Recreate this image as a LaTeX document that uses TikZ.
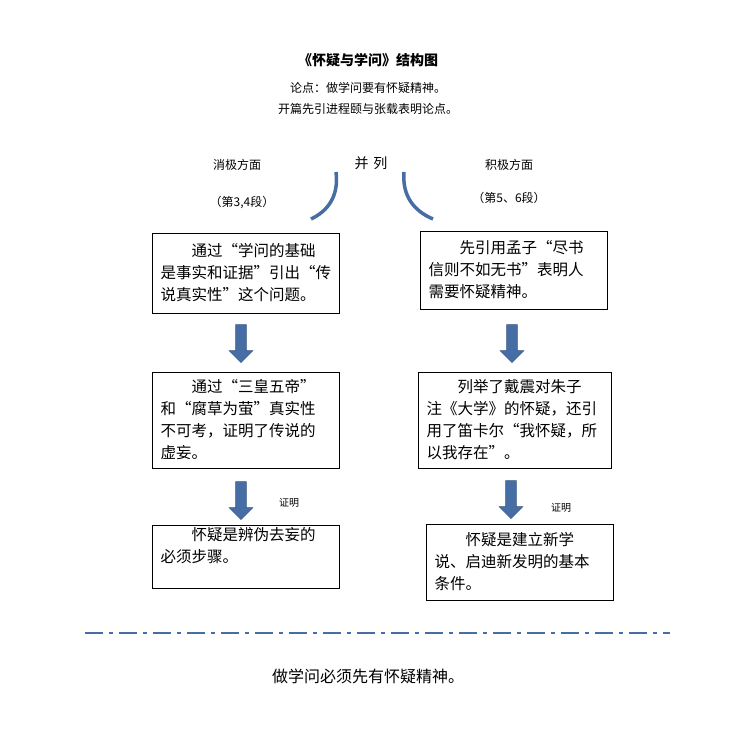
\documentclass[tikz,border=0pt]{standalone}
\usepackage{fontspec}
\setmainfont{Noto Sans CJK SC}
\usetikzlibrary{shapes.arrows}
\definecolor{bl}{RGB}{70,110,165}
\begin{document}
\begin{tikzpicture}[x=1pt,y=-1pt,
 box/.style={draw,line width=0.8pt,inner sep=0pt,align=left,text width=170pt,font=\fontsize{15.5}{22}\selectfont},
 lbl/.style={font=\fontsize{12}{14}\selectfont},
 barrow/.style={single arrow,draw=bl!80!black,fill=bl,shape border rotate=270,minimum height=38pt,minimum width=24pt,single arrow head extend=4pt,inner sep=3pt}]
\useasboundingbox (0,0) rectangle (735,736);
\node[font=\fontsize{14}{16}\selectfont\bfseries] (t) at (368,60) {《怀疑与学问》结构图};
\node[lbl] (s1) at (368,88) {论点：做学问要有怀疑精神。};
\node[lbl] (s2) at (368,109) {开篇先引进程颐与张载表明论点。};
\node[font=\fontsize{14}{16}\selectfont] (bl0) at (371,163) {并\,\,列};
\node[lbl] (n1) at (237,165) {消极方面};
\node[lbl] (n2) at (242,203) {（第3,4段）};
\node[lbl] (p1) at (509,165) {积极方面};
\node[lbl] (p2) at (509,198) {（第5、6段）};
\draw[bl,line width=3.5pt] (336,172) .. controls (339,196) and (328,211) .. (311,219);
\draw[bl,line width=3.5pt] (404,172) .. controls (402,196) and (414,211) .. (433,219);
\node[box,minimum width=187pt,minimum height=80pt] (L1) at (245.5,273) {\hspace*{2em}通过“学问的基础\\是事实和证据”引出“传\\说真实性”这个问题。};
\node[box,minimum width=187pt,minimum height=78pt] (R1) at (513.5,270) {\hspace*{2em}先引用孟子“尽书\\信则不如无书”表明人\\需要怀疑精神。};
\node[box,minimum width=187pt,minimum height=96pt] (L2) at (245.5,420) {\hspace*{2em}通过“三皇五帝”\\和“腐草为萤”真实性\\不可考，证明了传说的\\虚妄。};
\node[box,minimum width=193pt,minimum height=96pt,text width=176pt] (R2) at (514.5,420) {\hspace*{2em}列举了戴震对朱子\\注《大学》的怀疑，还引\\用了笛卡尔“我怀疑，所\\以我存在”。};
\node[box,minimum width=187pt,minimum height=63pt] (L3) at (245.5,556.5) {\hspace*{2em}怀疑是辨伪去妄的\\必须步骤。\\[-6pt]\strut};
\node[box,minimum width=187pt,minimum height=76pt] (R3) at (519.5,562) {\hspace*{2em}怀疑是建立新学\\说、启迪新发明的基本\\条件。};
\node[barrow] (a1) at (241,341) {};
\node[barrow] (a2) at (512,341) {};
\node[barrow] (a3) at (241,498) {};
\node[barrow] (a4) at (511,497) {};
\node[font=\fontsize{10}{12}\selectfont] (z1) at (289,503) {证明};
\node[font=\fontsize{10}{12}\selectfont] (z2) at (561,508) {证明};
\coordinate (d1) at (85,633); \coordinate (d2) at (670,633);
\draw[bl,line width=2pt,dash pattern=on 18pt off 6pt on 4pt off 6pt] (d1) -- (d2);
\node[font=\fontsize{16}{18}\selectfont] (c) at (368,676) {做学问必须先有怀疑精神。};
\end{tikzpicture}
\end{document}
